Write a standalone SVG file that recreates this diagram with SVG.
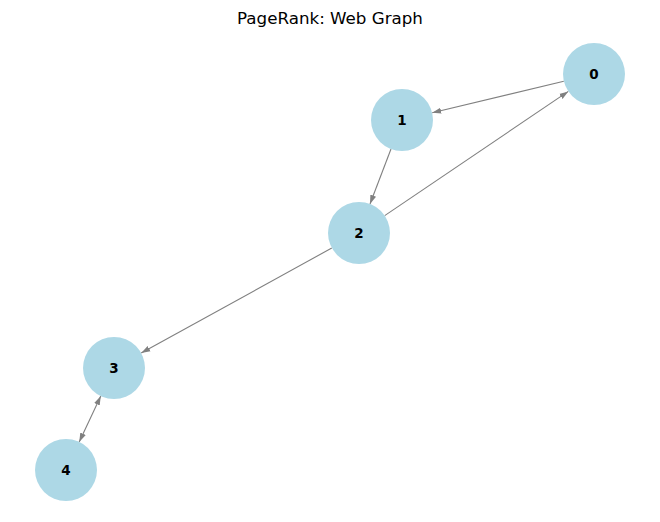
<svg xmlns="http://www.w3.org/2000/svg" width="660" height="522" viewBox="0 0 660 522">
<style>
.n{fill:#ADD8E6}
.l{font-family:"DejaVu Sans",sans-serif;font-size:13.5px;font-weight:bold;text-anchor:middle;dominant-baseline:central;fill:#000}
.e{stroke:#808080;stroke-width:1.1;fill:none}
</style>
<defs>
<marker id="a" markerUnits="userSpaceOnUse" markerWidth="10" markerHeight="8" refX="9" refY="3.5" orient="auto-start-reverse" viewBox="0 0 10 7">
<path d="M0,0.5 L9,3.5 L0,6.5 Z" fill="#808080"/>
</marker>
</defs>
<rect width="660" height="522" fill="#fff"/>
<text x="330" y="18" font-family="DejaVu Sans,sans-serif" font-size="16.7" text-anchor="middle" dominant-baseline="central">PageRank: Web Graph</text>
<g id="edges">
<line class="e" x1="563.8" y1="81.2" x2="432.2" y2="112.8" marker-end="url(#a)"/>
<line class="e" x1="391" y1="149" x2="370" y2="204" marker-end="url(#a)"/>
<line class="e" x1="384.7" y1="215.6" x2="568.3" y2="91.4" marker-end="url(#a)"/>
<line class="e" x1="331.8" y1="248" x2="141.2" y2="353" marker-end="url(#a)"/>
<line class="e" x1="100.8" y1="396.1" x2="79.2" y2="441.9" marker-start="url(#a)" marker-end="url(#a)"/>
</g>
<g id="node0"><circle class="n" cx="594" cy="74" r="31"/><text class="l" x="594" y="74">0</text></g>
<g id="node1"><circle class="n" cx="402" cy="120" r="31"/><text class="l" x="402" y="120">1</text></g>
<g id="node2"><circle class="n" cx="359" cy="233" r="31"/><text class="l" x="359" y="233">2</text></g>
<g id="node3"><circle class="n" cx="114" cy="368" r="31"/><text class="l" x="114" y="368">3</text></g>
<g id="node4"><circle class="n" cx="66" cy="470" r="31"/><text class="l" x="66" y="470">4</text></g>
</svg>
